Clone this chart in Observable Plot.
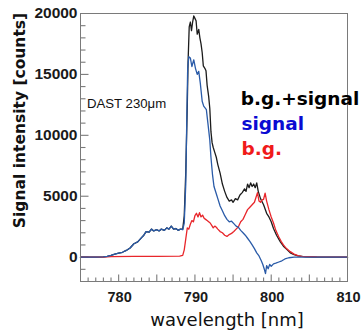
<!DOCTYPE html>
<html>
<head>
<meta charset="utf-8">
<script src="https://cdn.jsdelivr.net/npm/d3@7"></script>
<script src="https://cdn.jsdelivr.net/npm/@observablehq/plot@0.6"></script>
<style>
  html, body { margin: 0; padding: 0; background: #fff; }
  #chart svg { display: block; }
</style>
</head>
<body>
<div id="chart"></div>
<script>
// ---- data ----
const sumWl = [775,776,777,778,778.5,779,779.5,780,780.5,781,781.5,782,782.5,783,783.3,783.6,784,784.3,784.6,785,785.3,785.6,786,786.3,786.6,786.9,787.2,787.5,787.8,788.1,788.4,788.6,788.8,789.0,789.1,789.25,789.4,789.55,789.7,789.85,790.0,790.15,790.3,790.5,790.65,790.8,790.95,791.1,791.3,791.45,791.6,791.8,791.95,792.1,792.25,792.4,792.6,792.8,793.0,793.3,793.6,793.9,794.2,794.5,794.8,795.0,795.3,795.6,795.9,796.2,796.5,796.7,796.9,797.1,797.3,797.5,797.7,797.9,798.1,798.3,798.6,799.0,799.4,799.7,800.0,800.3,800.7,801.2,801.6,802.1,802.5,803.0,803.5,804.5,806,810];
const sumVal = [0,0,0,20,60,150,250,330,400,550,750,1100,1250,1600,1800,2100,2050,2300,2150,2250,2150,2300,2200,2400,2300,2550,2300,2350,2200,2300,2300,3400,7000,12500,16000,18900,19300,18600,19300,19800,19600,19400,18300,18700,18000,17500,16800,15700,15500,15300,14100,13200,12200,10300,9400,9000,8600,8200,7600,6900,6000,5400,4900,4600,4700,4500,4800,4700,5100,5300,5600,5400,6000,5700,6100,5800,6000,5700,6100,5400,4800,4300,3600,3300,2900,2350,1800,1250,900,600,350,200,100,30,0,0];

const sigWl = [775,776,777,778,778.5,779,779.5,780,780.5,781,781.5,782,782.5,783,783.3,783.6,784,784.3,784.6,785,785.3,785.6,786,786.3,786.6,786.9,787.2,787.5,787.8,788.1,788.4,788.6,788.8,788.95,789.05,789.2,789.4,789.6,789.85,790.07,790.3,790.5,790.7,790.95,791.15,791.5,791.7,791.95,792.1,792.3,792.5,792.8,793.0,793.3,793.6,793.9,794.2,794.5,794.8,795.1,795.4,795.7,796.0,796.3,796.6,796.9,797.2,797.5,797.8,798.1,798.4,798.7,798.9,799.1,799.25,799.4,799.6,799.8,800.0,800.3,800.6,801.0,801.4,801.8,802.3,803,805,810];
const sigVal = [0,0,0,20,60,150,250,330,400,550,750,1100,1250,1600,1800,2100,2050,2300,2150,2250,2150,2300,2200,2400,2300,2550,2300,2350,2200,2300,2250,2800,6000,12000,15500,16450,16350,15650,16200,15500,15000,15250,14300,12800,12400,12100,11000,9600,8200,6800,5800,5200,4800,4200,3800,3400,3100,2900,2950,2750,2550,2450,2200,2000,1800,1550,1300,1000,700,350,100,-300,-600,-1000,-1350,-700,-950,-600,-750,-550,-500,-400,-300,-150,-50,0,0,0];

const bgWl = [775,778,779,782,785,788,788.4,788.6,788.8,789.0,789.2,789.4,789.6,789.8,790.0,790.2,790.4,790.6,790.8,791.0,791.2,791.4,791.6,791.8,792.0,792.2,792.4,792.6,792.8,793.0,793.3,793.6,793.9,794.2,794.5,794.8,795.1,795.4,795.7,796.0,796.3,796.6,796.9,797.2,797.5,797.8,798.0,798.2,798.4,798.6,798.8,799.0,799.2,799.4,799.7,800.0,800.3,800.6,801.0,801.3,801.6,802.0,802.5,803.0,803.5,804,806,810];
const bgVal = [0,0,50,60,70,80,150,600,1500,2400,2300,2700,3000,2900,3400,3600,3300,3650,3300,3450,3200,3100,3000,2900,2800,2600,2400,2550,2450,2300,2100,2000,1800,1700,1850,1950,2100,2300,2500,2900,3100,3500,3900,4100,4300,4500,4900,5300,4600,4500,4700,4750,5250,4600,3900,3300,2800,2200,1650,1300,1000,700,450,250,120,60,20,0];

const xTickLabels = [780, 790, 800, 810];
const yTickLabels = [0, 5000, 10000, 15000, 20000];
const xMinorTicks = [776,777,778,779,781,782,783,784,786,787,788,789,791,792,793,794,796,797,798,799,801,802,803,804,806,807,808,809];
const xMajorTicks = [780, 785, 790, 795, 800, 805];
const yMinorTicks = [-1000,1000,2000,3000,4000,6000,7000,8000,9000,11000,12000,13000,14000,16000,17000,18000,19000];
const yMajorTicks = [0, 5000, 10000, 15000];

const legendLabels = ["b.g.+signal", "signal", "b.g."];
const sampleLabel = "DAST 230μm";
const xLabel = "wavelength [nm]";
const yLabel = "Signal intensity [counts]";

// ---- tables ----
const toRows = (w, v) => w.map((d, i) => ({wl: d, v: v[i]}));
const sumRows = toRows(sumWl, sumVal);
const sigRows = toRows(sigWl, sigVal);
const bgRows = toRows(bgWl, bgVal);

const xDomain = [775, 810];
const yDomain = [-2000, 20000];
const W = 361, H = 330, mL = 80, mR = 14, mT = 13, mB = 49;
// tick lengths in data units (pixels -> units)
const yUnitsPerPx = (yDomain[1] - yDomain[0]) / (H - mT - mB);
const xUnitsPerPx = (xDomain[1] - xDomain[0]) / (W - mL - mR);

const axisGray = "#7a7a7a";
const tickFont = "'Liberation Sans', Arial, sans-serif";
const labelFont = "'DejaVu Sans', sans-serif";

const xTick = (len) => ({x1: d => d, x2: d => d, y1: yDomain[0], y2: yDomain[0] + len * yUnitsPerPx, stroke: axisGray, strokeWidth: 1.1});
const yTick = (len) => ({y1: d => d, y2: d => d, x1: xDomain[0], x2: xDomain[0] + len * xUnitsPerPx, stroke: axisGray, strokeWidth: 1.1});

const chart = Plot.plot({
  width: W,
  height: H,
  marginLeft: mL,
  marginRight: mR,
  marginTop: mT,
  marginBottom: mB,
  style: {background: "#fff"},
  x: {domain: xDomain},
  y: {domain: yDomain},
  marks: [
    // inward ticks
    Plot.link(xMinorTicks, xTick(4)),
    Plot.link(xMajorTicks, xTick(7)),
    Plot.link(yMinorTicks, yTick(5)),
    Plot.link(yMajorTicks, yTick(8)),
    Plot.axisX(xTickLabels, {tickSize: 0, tickPadding: 10, label: null, tickFormat: d => String(d), fontSize: 14.5, fontWeight: "bold", fontFamily: tickFont, fill: "#1a1a1a", dx: 1}),
    Plot.axisY(yTickLabels, {tickSize: 0, tickPadding: 3, label: null, tickFormat: d => String(d), fontSize: 15.5, fontWeight: "bold", fontFamily: tickFont, fill: "#1a1a1a"}),
    // series
    Plot.line(sumRows, {x: "wl", y: "v", stroke: "#1c1c1c", strokeWidth: 1.3}),
    Plot.line(bgRows, {x: "wl", y: "v", stroke: "#e8262b", strokeWidth: 1.3}),
    Plot.line(sigRows, {x: "wl", y: "v", stroke: "#2a5ba8", strokeWidth: 1.3}),
    Plot.frame({stroke: axisGray}),
    // annotations
    Plot.text([legendLabels[0]], {x: 796.0, y: 12510, text: d => d, textAnchor: "start", lineAnchor: "bottom", fill: "#000", fontSize: 18.5, fontWeight: "bold", fontFamily: labelFont}),
    Plot.text([legendLabels[1]], {x: 796.1, y: 10450, text: d => d, textAnchor: "start", lineAnchor: "bottom", fill: "#0a0ad2", fontSize: 18.5, fontWeight: "bold", fontFamily: labelFont}),
    Plot.text([legendLabels[2]], {x: 796.1, y: 8390, text: d => d, textAnchor: "start", lineAnchor: "bottom", fill: "#f01a1a", fontSize: 18.5, fontWeight: "bold", fontFamily: labelFont}),
    Plot.text([sampleLabel], {x: 775.85, y: 12240, text: d => d, textAnchor: "start", lineAnchor: "bottom", fill: "#111", fontSize: 13.2, fontFamily: tickFont}),
    Plot.text([xLabel], {frameAnchor: "bottom", text: d => d, textAnchor: "middle", dx: 13, dy: 44, lineAnchor: "bottom", fill: "#111", fontSize: 18, fontFamily: labelFont}),
    Plot.text([yLabel], {frameAnchor: "left", text: d => d, textAnchor: "middle", lineAnchor: "middle", rotate: -90, dx: -60, dy: -27, fill: "#111", fontSize: 15.5, fontWeight: "bold", fontFamily: labelFont})
  ]
});
document.getElementById("chart").appendChild(chart);
</script>
</body>
</html>
